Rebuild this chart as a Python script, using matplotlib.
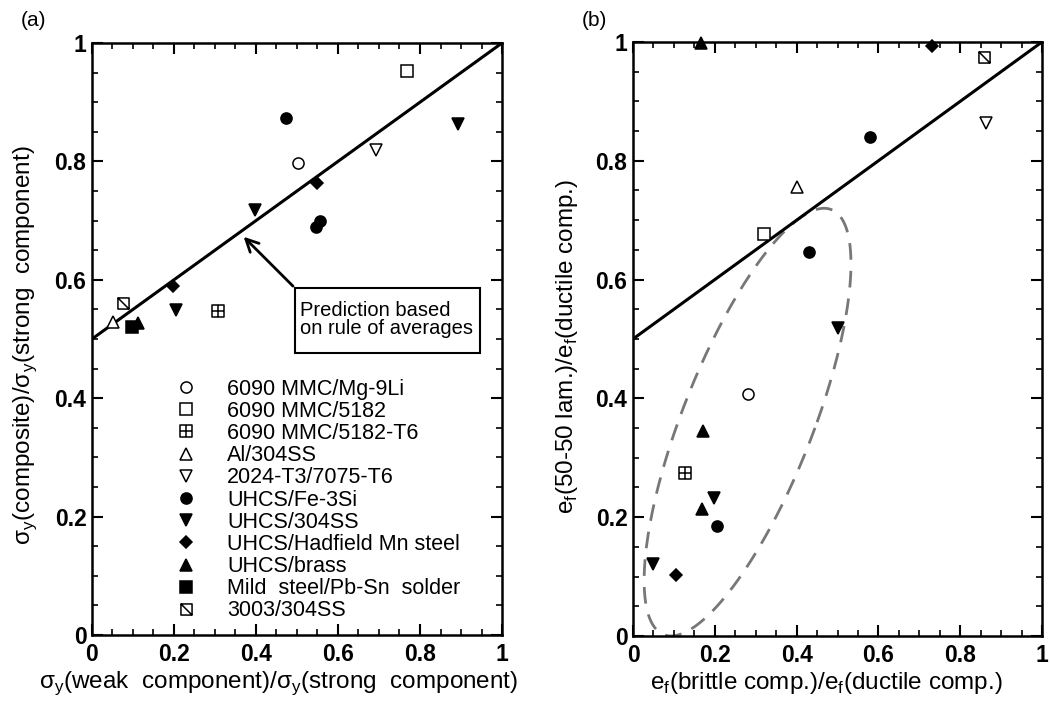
import numpy as np
import matplotlib
matplotlib.use("Agg")
import matplotlib.pyplot as plt
from matplotlib.path import Path
from matplotlib.patches import Rectangle
from matplotlib.ticker import MultipleLocator, FuncFormatter

plt.rcParams['font.family'] = ['Liberation Sans', 'DejaVu Sans']
plt.rcParams['mathtext.fontset'] = 'custom'
plt.rcParams['mathtext.rm'] = 'Liberation Sans'

# custom open markers: square with a cross, square with a diagonal
boxed_plus = Path([(-1, -1), (1, -1), (1, 1), (-1, 1), (-1, -1),
                   (0, -1), (0, 1), (-1, 0), (1, 0)],
                  [Path.MOVETO, Path.LINETO, Path.LINETO, Path.LINETO, Path.CLOSEPOLY,
                   Path.MOVETO, Path.LINETO, Path.MOVETO, Path.LINETO])
boxed_slash = Path([(-1, -1), (1, -1), (1, 1), (-1, 1), (-1, -1),
                    (-1, 1), (1, -1)],
                   [Path.MOVETO, Path.LINETO, Path.LINETO, Path.LINETO, Path.CLOSEPOLY,
                    Path.MOVETO, Path.LINETO])

# data
names = ['6090 MMC/Mg-9Li', '6090 MMC/5182', '6090 MMC/5182-T6', 'Al/304SS',
         '2024-T3/7075-T6', 'UHCS/Fe-3Si', 'UHCS/304SS', 'UHCS/Hadfield Mn steel',
         'UHCS/brass', 'Mild  steel/Pb-Sn  solder', '3003/304SS']

# panel (a): yield strength ratios
a_x = [[0.502], [0.768], [0.307], [0.051], [0.692],
       [0.472, 0.546, 0.556], [0.892, 0.398, 0.205], [0.550, 0.197],
       [0.113], [0.097], [0.076]]
a_y = [[0.797], [0.952], [0.548], [0.529], [0.819],
       [0.873, 0.690, 0.699], [0.863, 0.718, 0.549], [0.764, 0.590],
       [0.527], [0.521], [0.560]]

# panel (b): elongation ratios
b_x = [[0.280], [0.319], [0.127], [0.400], [0.862],
       [0.579, 0.431, 0.205], [0.500, 0.199, 0.050], [0.730, 0.104],
       [0.166, 0.170, 0.168], [], [0.858]]
b_y = [[0.407], [0.676], [0.274], [0.755], [0.863],
       [0.840, 0.647, 0.185], [0.518, 0.232, 0.122], [0.993, 0.102],
       [0.998, 0.345, 0.214], [], [0.974]]

rule_x = [0, 1]
rule_y = [0.5, 1]

styles = [
    dict(marker='o', mfc='white', ms=8),
    dict(marker='s', mfc='white', ms=8),
    dict(marker=boxed_plus, mfc='white', ms=8),
    dict(marker='^', mfc='white', ms=8.5),
    dict(marker='v', mfc='white', ms=8.5),
    dict(marker='o', mfc='black', ms=8),
    dict(marker='v', mfc='black', ms=9),
    dict(marker='D', mfc='black', ms=6),
    dict(marker='^', mfc='black', ms=9),
    dict(marker='s', mfc='black', ms=8),
    dict(marker=boxed_slash, mfc='white', ms=8),
]

fig = plt.figure(figsize=(10.5, 7.05), dpi=100)
ax1 = fig.add_axes([0.0876, 0.0993, 0.3905, 0.8397])
ax2 = fig.add_axes([0.6029, 0.0979, 0.3895, 0.8426])

for ax in (ax1, ax2):
    ax.set_xlim(0, 1)
    ax.set_ylim(0, 1)
    ax.plot(rule_x, rule_y, color='black', lw=2.2, zorder=2)
    ax.xaxis.set_major_locator(MultipleLocator(0.2))
    ax.yaxis.set_major_locator(MultipleLocator(0.2))
    ax.xaxis.set_minor_locator(MultipleLocator(0.05))
    ax.yaxis.set_minor_locator(MultipleLocator(0.05))
    fmt = FuncFormatter(lambda v, p: '%g' % round(v, 2))
    ax.xaxis.set_major_formatter(fmt)
    ax.yaxis.set_major_formatter(fmt)
    ax.tick_params(which='both', direction='in', top=True, right=True)
    ax.tick_params(which='major', length=8, width=1.5, labelsize=16.5)
    ax.tick_params(which='minor', length=4, width=1.2)
    ax.tick_params(axis='x', pad=6)
    ax.tick_params(axis='y', pad=4)
    for lab in ax.get_xticklabels() + ax.get_yticklabels():
        lab.set_fontweight('bold')
    for sp in ax.spines.values():
        sp.set_linewidth(1.8)

for i, name in enumerate(names):
    ax1.plot(a_x[i], a_y[i], linestyle='none', mec='black', mew=1.1,
             label=name, clip_on=False, zorder=3, **styles[i])
    if b_x[i]:
        ax2.plot(b_x[i], b_y[i], linestyle='none', mec='black', mew=1.1,
                 clip_on=False, zorder=3, **styles[i])

leg = ax1.legend(loc='center left', bbox_to_anchor=(0.204, 0.228), frameon=False,
                 fontsize=15.5, handlelength=0.95, handletextpad=1.45,
                 labelspacing=0.055, borderpad=0, borderaxespad=0, numpoints=1)

# annotation box and arrow in (a)
ax1.add_patch(Rectangle((0.495, 0.477), 0.451, 0.109, fill=False, lw=1.5,
                        edgecolor='black', zorder=4))
ax1.text(0.508, 0.533, 'Prediction based\non rule of averages', fontsize=14.5,
         ha='left', va='center', linespacing=0.95, zorder=4)
ax1.annotate('', xy=(0.365, 0.676), xytext=(0.495, 0.586),
             arrowprops=dict(arrowstyle='->,head_length=0.9,head_width=0.45',
                             lw=2, color='black'))

# dashed ellipse in (b)
cx, cy, A, B, k = 0.28, 0.36, 0.17, 0.36, 0.52
t = np.linspace(0, 2 * np.pi, 300)
ev = B * np.sin(t)
eu = k * ev + A * np.cos(t)
ax2.plot(cx + eu, cy + ev, color='#777777', lw=2, dashes=(6, 4), zorder=1)

ax1.set_xlabel('σ$_\\mathregular{y}$(weak  component)/σ$_\\mathregular{y}$(strong  component)',
               fontsize=17.5)
ax1.set_ylabel('σ$_\\mathregular{y}$(composite)/σ$_\\mathregular{y}$(strong  component)',
               fontsize=17.5)
ax2.set_xlabel('e$_\\mathregular{f}$(brittle comp.)/e$_\\mathregular{f}$(ductile comp.)',
               fontsize=17.5)
ax2.set_ylabel('e$_\\mathregular{f}$(50-50 lam.)/e$_\\mathregular{f}$(ductile comp.)',
               fontsize=17.5)
ax1.xaxis.set_label_coords(0.455, -0.081)
ax1.xaxis.label.set_va('center')
ax1.yaxis.set_label_coords(-0.163, 0.49)
ax1.yaxis.label.set_va('center')
ax2.xaxis.set_label_coords(0.472, -0.079)
ax2.xaxis.label.set_va('center')
ax2.yaxis.set_label_coords(-0.161, 0.487)
ax2.yaxis.label.set_va('center')

fig.text(33 / 1050, 1 - 21 / 705, '(a)', fontsize=15, ha='center', va='center')
fig.text(594 / 1050, 1 - 21 / 705, '(b)', fontsize=15, ha='center', va='center')

fig.savefig('out.png', dpi=100)
